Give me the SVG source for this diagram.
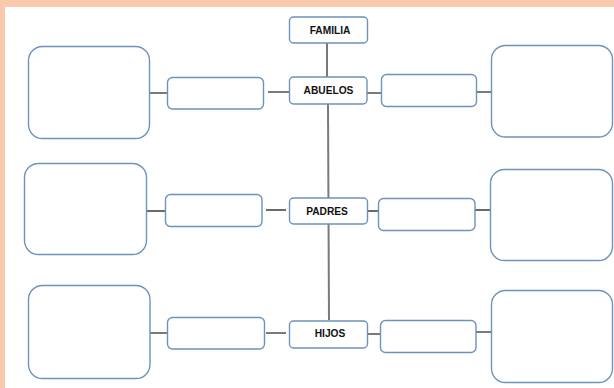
<svg xmlns="http://www.w3.org/2000/svg" width="614" height="388" viewBox="0 0 614 388">
<style>
.bg{fill:#ffffff}
.frame{fill:#f8caab}
.box{fill:#ffffff;stroke:#6f92bb;stroke-width:1.4}
.c1{stroke:#7a7a7a;stroke-width:2;fill:none}
.c2{stroke:#2a2a2a;stroke-width:1.4;fill:none}
.lbl{font-family:"Liberation Sans",Arial,sans-serif;font-weight:bold;font-size:10.2px;fill:#111;text-anchor:middle;dominant-baseline:central}
</style>
<rect class="bg" x="0" y="0" width="614" height="388"/>
<rect class="frame" x="0" y="0" width="614" height="7"/>
<rect class="frame" x="0" y="0" width="5" height="388"/>
<g id="connectors">
<line class="c1" x1="327" y1="43" x2="327" y2="77"/>
<line class="c1" x1="328" y1="104" x2="329" y2="320"/>
<line class="c1" x1="149" y1="93" x2="167" y2="93"/>
<line class="c1" x1="268" y1="92" x2="289" y2="92"/>
<line class="c1" x1="367" y1="93" x2="381" y2="93"/>
<line class="c1" x1="476" y1="92" x2="491" y2="92"/>
<line class="c2" x1="147" y1="211" x2="165" y2="211"/>
<line class="c2" x1="266" y1="210" x2="286" y2="210"/>
<line class="c2" x1="365" y1="211" x2="378" y2="211"/>
<line class="c2" x1="475" y1="210" x2="491" y2="210"/>
<line class="c1" x1="149" y1="333" x2="167" y2="333"/>
<line class="c1" x1="266" y1="333" x2="286" y2="333"/>
<line class="c1" x1="366" y1="334" x2="380" y2="334"/>
<line class="c1" x1="476" y1="332" x2="491" y2="332"/>
</g>
<g id="familia"><rect class="box" x="289.5" y="17" width="78" height="26" rx="4"/><text class="lbl" x="330" y="30">FAMILIA</text></g>
<g id="abuelos"><rect class="box" x="289.5" y="77" width="77.5" height="27" rx="4"/><text class="lbl" x="328.5" y="90">ABUELOS</text></g>
<g id="padres"><rect class="box" x="289.5" y="198" width="78" height="26" rx="4"/><text class="lbl" x="327" y="211">PADRES</text></g>
<g id="hijos"><rect class="box" x="289.5" y="321" width="78" height="27" rx="4"/><text class="lbl" x="330" y="333.5">HIJOS</text></g>
<g id="abuelos-left-small"><rect class="box" x="167.5" y="77.5" width="96" height="31.5" rx="5"/></g>
<g id="abuelos-left-big"><rect class="box" x="28.5" y="46.5" width="121" height="92" rx="14"/></g>
<g id="abuelos-right-small"><rect class="box" x="381.5" y="74.5" width="95" height="32" rx="5"/></g>
<g id="abuelos-right-big"><rect class="box" x="491.5" y="45.5" width="121" height="91.5" rx="14"/></g>
<g id="padres-left-small"><rect class="box" x="165.5" y="194.5" width="96.5" height="32" rx="5"/></g>
<g id="padres-left-big"><rect class="box" x="24.5" y="163.5" width="122" height="91" rx="14"/></g>
<g id="padres-right-small"><rect class="box" x="378.5" y="198.5" width="96.5" height="32" rx="5"/></g>
<g id="padres-right-big"><rect class="box" x="490.5" y="169.5" width="122" height="91" rx="14"/></g>
<g id="hijos-left-small"><rect class="box" x="167.5" y="317.5" width="97" height="31.5" rx="5"/></g>
<g id="hijos-left-big"><rect class="box" x="28.5" y="285.5" width="121.5" height="93" rx="14"/></g>
<g id="hijos-right-small"><rect class="box" x="380.5" y="320.5" width="95.5" height="32" rx="5"/></g>
<g id="hijos-right-big"><rect class="box" x="491.5" y="290.5" width="121" height="92" rx="14"/></g>
</svg>
